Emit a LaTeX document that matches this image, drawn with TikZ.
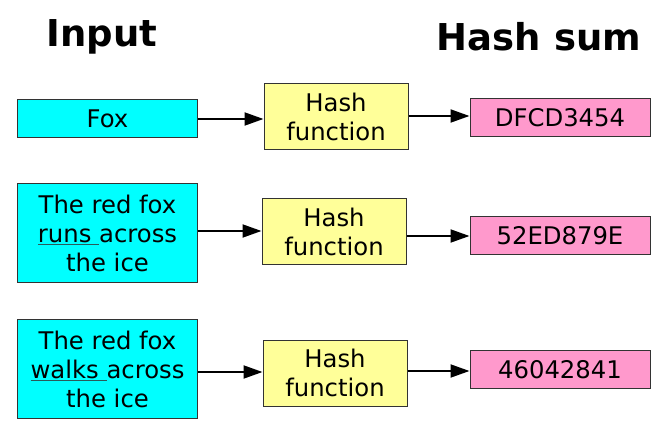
\documentclass[tikz,border=0pt]{standalone}
\usepackage{fontspec}
\setmainfont{DejaVu Sans}
\usetikzlibrary{arrows.meta}
\definecolor{incol}{HTML}{00FFFF}
\definecolor{hashcol}{HTML}{FFFF99}
\definecolor{outcol}{HTML}{FF99CC}
\definecolor{edgecol}{HTML}{333333}
\definecolor{ulcol}{HTML}{2A5A5A}
\newcommand{\myul}[1]{{\color{ulcol}\underline{\color{black}#1}}}
\tikzset{
  box/.style={draw=edgecol, line width=1bp, inner sep=0pt, align=center,
    font=\fontsize{24.3bp}{29bp}\selectfont},
  inbox/.style={box, fill=incol, minimum width=179bp},
  hashbox/.style={box, fill=hashcol, minimum width=144bp, minimum height=66bp},
  outbox/.style={box, fill=outcol, minimum width=180bp, minimum height=38bp},
  title/.style={font=\fontsize{37bp}{40bp}\selectfont\bfseries},
  conn/.style={-{Triangle[length=19bp,width=13bp]}, line width=2bp, black}
}
\begin{document}
\begin{tikzpicture}[x=1bp,y=-1bp]
\useasboundingbox (0,0) rectangle (660,447);
\node[title] (tin) at (102,37) {Input};
\node[title] (tout) at (539,37) {Hash sum};

\node[inbox, minimum height=38bp] (i1) at (107.5,119) {Fox};
\node[inbox, minimum height=98bp] (i2) at (107.5,233) {The red fox\\\myul{runs\ }across\\the ice};
\node[inbox, minimum height=98bp] (i3) at (107.5,369) {The red fox\\\myul{walks\ }across\\the ice};

\node[hashbox] (h1) at (336,117) {Hash\\function};
\node[hashbox] (h2) at (334,232) {Hash\\function};
\node[hashbox] (h3) at (335,373) {Hash\\function};

\node[outbox] (o1) at (560,118) {DFCD3454};
\node[outbox] (o2) at (560,235.5) {52ED879E};
\node[outbox] (o3) at (560,369.5) {46042841};

\draw[conn] (i1.east |- 0,119) -- (h1.west |- 0,119);
\draw[conn] (h1.east |- 0,116) -- (o1.west |- 0,116);
\draw[conn] (i2.east |- 0,231) -- (h2.west |- 0,231);
\draw[conn] (h2.east |- 0,236) -- (o2.west |- 0,236);
\draw[conn] (i3.east |- 0,372) -- (h3.west |- 0,372);
\draw[conn] (h3.east |- 0,371) -- (o3.west |- 0,371);
\end{tikzpicture}
\end{document}
